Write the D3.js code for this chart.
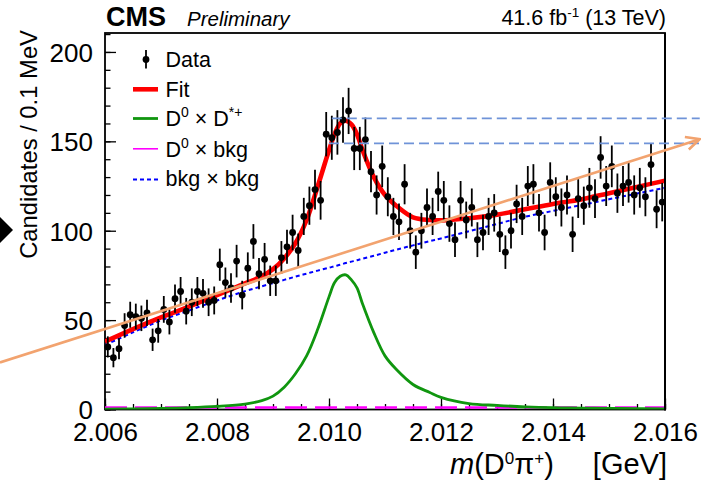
<!DOCTYPE html>
<html><head><meta charset="utf-8">
<script src="https://cdn.jsdelivr.net/npm/d3@7"></script>
<style>body{margin:0;background:#fff} svg{display:block;font-family:"Liberation Sans",Arial,Helvetica,sans-serif}</style>
</head><body>
<svg id="c" width="701" height="487"></svg>
<script>
// ---- data ----
const binLow = 2.006, binWidth = 0.0001;
const counts = [35,29,34,47,53,52,51,54,39,44, 56,49,62,66,55,60,66,65,60,61,
  81,71,68,83,64,79,94,76,84,72, 72,85,91,99,89,108,114,123,117,154,
  152,155,162,167,146,146,151,133,120,136, 119,108,105,126,100,88,100,113,108,122,
  117,104,95,117,106,113,95,99,108,110, 98,88,100,115,108,125,126,110,99,127,
  119,113,120,98,118,114,124,118,141,125, 136,121,125,127,120,124,119,137,112,116];
const curveMass = [2.0060,2.0065,2.0070,2.0075,2.0080,2.0085,2.0088,2.0090,2.0092,2.0094,2.0096,2.0098,2.0100,2.0101,2.0102,2.0103,2.0104,2.0105,2.0106,2.0108,2.0110,2.0112,2.0115,2.0118,2.0120,2.0125,2.0130,2.0135,2.0140,2.0145,2.0150,2.0155,2.0160];
const fitVal = [38,45,51.5,57.5,64,70.5,74.5,78.5,84.5,93,106,125,145,154,160,161.5,159.5,154,145,130,120,114,107.5,106,105.8,107,109,112,115,117.5,121,124.5,128];
const sigVal = [0.2,0.4,0.6,1.0,1.7,3.0,5.0,7.5,12.5,20,30,45,63,71,74.5,75.3,72.5,68,59,43,30,22.5,14,9.5,6.8,3.3,2.3,1.5,1.0,0.8,0.6,0.5,0.4];
const bkgVal = [36,43.2,49.8,55.4,61,66.2,68.9,70.7,72.5,74.3,76,77.7,79.3,80.2,81,81.9,82.7,83.5,84.4,86,87.7,89.4,91.8,94.2,95.7,99.7,103.8,107.8,111.1,114.3,117.6,120.8,124];
const dbkgMass = [2.006, 2.016];
const dbkgVal = [1.1, 1.1];
const xTicks = [2.006, 2.008, 2.010, 2.012, 2.014, 2.016];
const xTickLabels = ["2.006","2.008","2.010","2.012","2.014","2.016"];
const yTicks = [0, 50, 100, 150, 200];
const yTickLabels = ["0","50","100","150","200"];
const refLineVal = [162.9, 148.9];
const refLineStart = [2.01005, 2.0100];
const refLineEnd = 2.01662;
const arrowFrom = [2.004125, 26.3];
const arrowTo = [2.01662, 151.2];

// ---- layout ----
const svg = d3.select("#c");
const L = 105, R = 665, T = 33, B = 409.5;
const x = d3.scaleLinear().domain([2.006, 2.016]).range([L, R]);
const y = d3.scaleLinear().domain([0, 210.6]).range([B, T]);
const FONT = "Liberation Sans, Arial, sans-serif";

svg.append("rect").attr("width",701).attr("height",487).attr("fill","#fff");
svg.append("clipPath").attr("id","pc").append("rect")
  .attr("x",L).attr("y",T).attr("width",R-L).attr("height",B-T);

// axes
const yMinor = d3.range(0, 211, 10);
svg.append("g").attr("transform",`translate(${L},0)`)
  .call(d3.axisLeft(y).tickValues(yMinor).tickSize(-5.5).tickFormat(""))
  .call(g=>g.select(".domain").remove())
  .call(g=>g.selectAll("line").attr("stroke","#000").attr("stroke-width",1.3));
svg.append("g").attr("transform",`translate(${L},0)`)
  .call(d3.axisLeft(y).tickValues(yTicks).tickSize(-11).tickPadding(12).tickFormat((d,i)=>yTickLabels[i]))
  .call(g=>g.select(".domain").remove())
  .call(g=>g.selectAll("line").attr("stroke","#000").attr("stroke-width",1.3))
  .call(g=>g.selectAll("text").attr("font-size",26).attr("font-family",FONT).attr("fill","#000").attr("dy","0.36em"));

const xMinor = d3.range(0, 21).map(i => 2.006 + i*0.0005);
svg.append("g").attr("transform",`translate(0,${B})`)
  .call(d3.axisBottom(x).tickValues(xMinor).tickSize(-5.5).tickFormat(""))
  .call(g=>g.select(".domain").remove())
  .call(g=>g.selectAll("line").attr("stroke","#000").attr("stroke-width",1.3));
svg.append("g").attr("transform",`translate(0,${B})`)
  .call(d3.axisBottom(x).tickValues(xTicks).tickSize(-11).tickPadding(13.5).tickFormat((d,i)=>xTickLabels[i]))
  .call(g=>g.select(".domain").remove())
  .call(g=>g.selectAll("line").attr("stroke","#000").attr("stroke-width",1.3))
  .call(g=>g.selectAll("text").attr("font-size",26).attr("font-family",FONT).attr("fill","#000"));

// curves
const plot = svg.append("g").attr("clip-path","url(#pc)");
const mk = (ms, vs) => ms.map((m,i)=>({m, v: vs[i]}));
const line = d3.line().x(d=>x(d.m)).y(d=>y(d.v)).curve(d3.curveCatmullRom.alpha(0.5));

svg.insert("rect", "g").attr("x",L).attr("y",T).attr("width",R-L).attr("height",B-T)
  .attr("fill","none").attr("stroke","#000").attr("stroke-width",1.8);

plot.append("path").datum(mk(dbkgMass, dbkgVal)).attr("d", line)
  .attr("fill","none").attr("stroke","#ff00ff").attr("stroke-width",2.4).attr("stroke-dasharray","22,8");
plot.append("path").datum(mk(curveMass, sigVal)).attr("d", line)
  .attr("fill","none").attr("stroke","#10960f").attr("stroke-width",2.8);
plot.append("path").datum(mk(curveMass, bkgVal)).attr("d", line)
  .attr("fill","none").attr("stroke","#0000ff").attr("stroke-width",2).attr("stroke-dasharray","4,3");
plot.append("path").datum(mk(curveMass, fitVal)).attr("d", line)
  .attr("fill","none").attr("stroke","#ff0000").attr("stroke-width",4.6);

// data points
const pts = counts.map((n,i)=>({m: binLow + (i+0.5)*binWidth, n}));
const dg = svg.append("g");
dg.selectAll("line.err").data(pts).join("line")
  .attr("x1",d=>x(d.m)).attr("x2",d=>x(d.m))
  .attr("y1",d=>y(d.n+Math.sqrt(d.n))).attr("y2",d=>y(d.n-Math.sqrt(d.n)))
  .attr("stroke","#000").attr("stroke-width",1.8);
dg.selectAll("circle").data(pts).join("circle")
  .attr("cx",d=>x(d.m)).attr("cy",d=>y(d.n)).attr("r",3.4).attr("fill","#000");

svg.append("line").attr("x1",R).attr("x2",R).attr("y1",T).attr("y2",B+0.9).attr("stroke","#000").attr("stroke-width",2);

// reference dashed lines
refLineVal.forEach((v,i)=>{
  svg.append("line").attr("x1",x(refLineStart[i])).attr("x2",x(refLineEnd))
    .attr("y1",y(v)).attr("y2",y(v))
    .attr("stroke","#6f93d8").attr("stroke-width",1.8).attr("stroke-dasharray","10,5");
});

// orange arrow
{
  const x0 = x(arrowFrom[0]), y0 = y(arrowFrom[1]), x1 = x(arrowTo[0]), y1 = y(arrowTo[1]);
  const a = Math.atan2(y1-y0, x1-x0), hl = 15, ha = 0.45;
  svg.append("line").attr("x1",x0).attr("y1",y0).attr("x2",x1).attr("y2",y1)
    .attr("stroke","#f2a36f").attr("stroke-width",2.6);
  svg.append("path").attr("d",
    `M${x1-hl*Math.cos(a-ha)},${y1-hl*Math.sin(a-ha)}L${x1},${y1}L${x1-hl*Math.cos(a+ha)},${y1-hl*Math.sin(a+ha)}`)
    .attr("fill","none").attr("stroke","#f2a36f").attr("stroke-width",2.6);
}

// left diamond marker
svg.append("path").attr("d","M-13,230L0,217L13,230L0,243Z").attr("fill","#000");

// header
const hdr = svg.append("g").attr("font-family",FONT);
hdr.append("text").attr("x",106).attr("y",26).attr("font-size",27).attr("font-weight","bold").text("CMS");
hdr.append("text").attr("x",187).attr("y",26).attr("font-size",20.5).attr("font-style","italic").text("Preliminary");
const lum = hdr.append("text").attr("x",666).attr("y",25).attr("font-size",21.5).attr("text-anchor","end");
lum.append("tspan").text("41.6 fb");
lum.append("tspan").attr("font-size",13.5).attr("dy",-8).text("-1");
lum.append("tspan").attr("dy",8).text(" (13 TeV)");

// axis titles
svg.append("text").attr("transform","translate(36.5,30) rotate(-90)")
  .attr("text-anchor","end").attr("font-size",23.8).text("Candidates / 0.1 MeV");
const xt = svg.append("text").attr("x",450).attr("y",473.5).attr("font-size",29);
xt.append("tspan").attr("font-style","italic").text("m");
xt.append("tspan").text("(D");
xt.append("tspan").attr("font-size",17).attr("dy",-10).text("0");
xt.append("tspan").attr("dy",10).text("\u03c0");
xt.append("tspan").attr("font-size",17).attr("dy",-10).text("+");
xt.append("tspan").attr("dy",10).text(")");
svg.append("text").attr("x",667).attr("y",473.5).attr("font-size",29).attr("text-anchor","end").text("[GeV]");

// legend
const lg = svg.append("g").attr("font-size",21.5);
const rows = [59.5, 89.3, 118.5, 148.8, 179.5];
lg.append("line").attr("x1",146).attr("x2",146).attr("y1",50).attr("y2",68.5).attr("stroke","#000").attr("stroke-width",1.8);
lg.append("circle").attr("cx",146).attr("cy",rows[0]).attr("r",3.4).attr("fill","#000");
lg.append("line").attr("x1",133).attr("x2",158).attr("y1",rows[1]).attr("y2",rows[1]).attr("stroke","#ff0000").attr("stroke-width",4.6);
lg.append("line").attr("x1",133).attr("x2",158).attr("y1",rows[2]).attr("y2",rows[2]).attr("stroke","#10960f").attr("stroke-width",2.8);
lg.append("line").attr("x1",133).attr("x2",158).attr("y1",rows[3]).attr("y2",rows[3]).attr("stroke","#ff00ff").attr("stroke-width",1.6);
lg.append("line").attr("x1",133).attr("x2",158).attr("y1",rows[4]).attr("y2",rows[4]).attr("stroke","#0000ff").attr("stroke-width",2).attr("stroke-dasharray","4,3");
const tx = 165.5;
lg.append("text").attr("x",tx).attr("y",rows[0]+7).text("Data");
lg.append("text").attr("x",tx).attr("y",rows[1]+7.5).text("Fit");
{
  const t = lg.append("text").attr("x",tx).attr("y",rows[2]+7.5);
  t.append("tspan").text("D");
  t.append("tspan").attr("font-size",14).attr("dy",-9).text("0");
  t.append("tspan").attr("dy",9).text(" \u00d7 D");
  t.append("tspan").attr("font-size",14).attr("dy",-9).text("*+");
}
{
  const t = lg.append("text").attr("x",tx).attr("y",rows[3]+7.8);
  t.append("tspan").text("D");
  t.append("tspan").attr("font-size",14).attr("dy",-9).text("0");
  t.append("tspan").attr("dy",9).text(" \u00d7 bkg");
}
lg.append("text").attr("x",tx).attr("y",rows[4]+6).text("bkg \u00d7 bkg");
</script>
</body></html>
